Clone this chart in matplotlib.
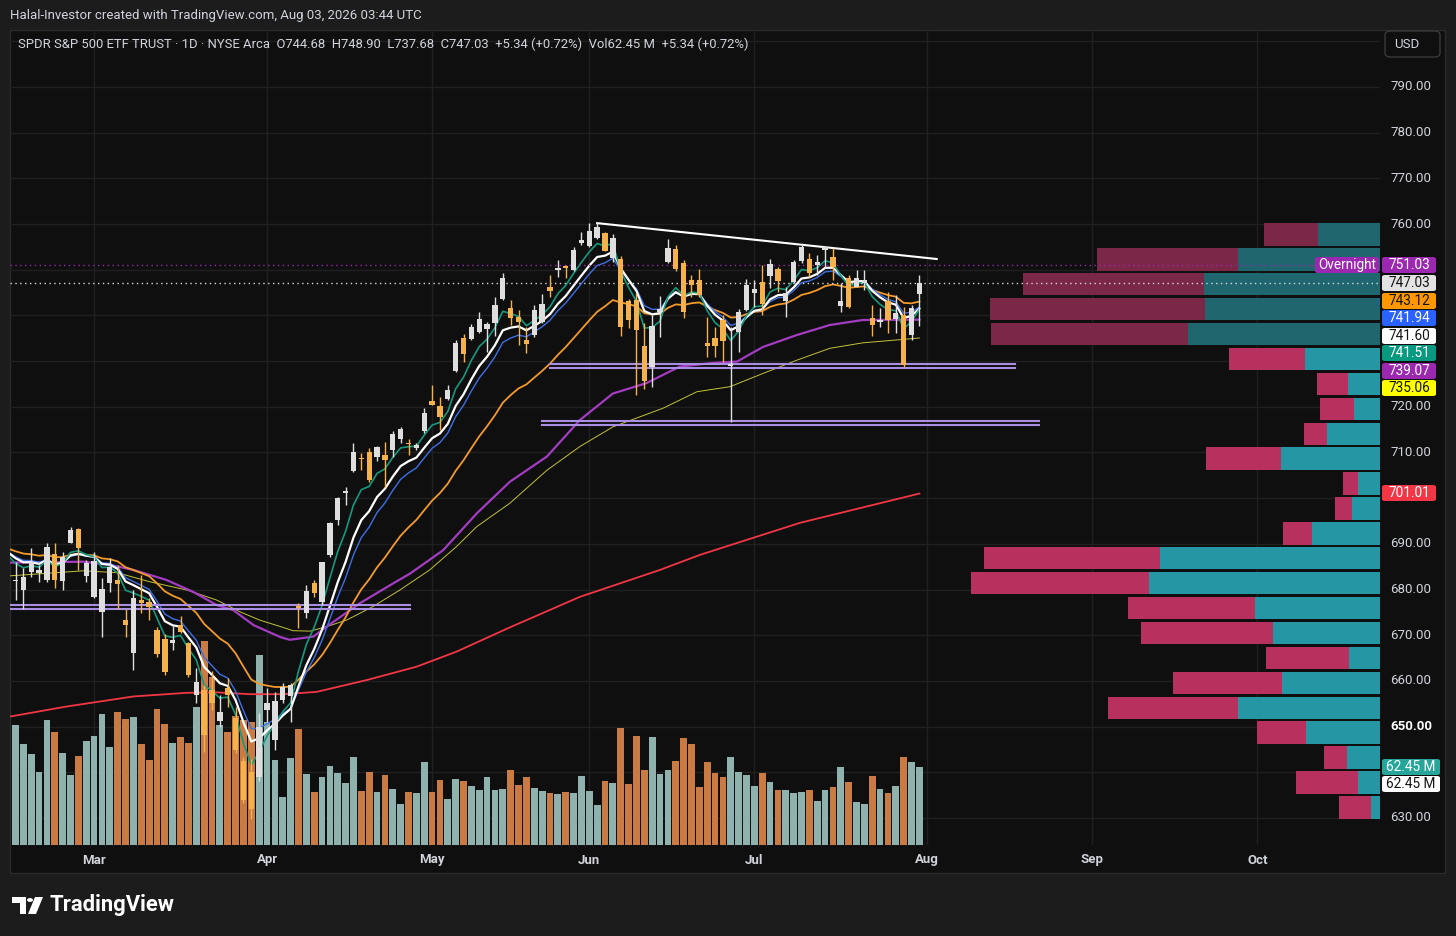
import numpy as np
import matplotlib
matplotlib.use("Agg")
import matplotlib.pyplot as plt
from matplotlib.patches import Rectangle, Polygon, Circle, FancyBboxPatch
from matplotlib.transforms import blended_transform_factory

plt.rcParams['font.family'] = ['Roboto', 'DejaVu Sans']

# === Daily candles, Feb 13 .. Jul 31 (trading-day index 0..115) ===
opens = [681.8, 680.0, 683.9, 683.7, 682.1, 687.7, 681.9, 690.1, 693.2, 682.9,
         678.4, 675.0, 681.5, 682.1, 673.3, 666.2, 677.7, 677.3, 671.1, 669.1,
         668.3, 672.2, 668.2, 656.9, 658.0, 658.0, 651.2, 658.5, 651.9, 642.5,
         640.1, 639.0, 653.6, 647.1, 655.8, 656.6, 676.3, 674.8, 681.4, 677.3,
         687.5, 695.2, 701.1, 705.9, 708.9, 710.0, 709.1, 709.5, 710.5, 712.9,
         712.0, 710.9, 714.6, 721.3, 720.1, 721.6, 727.9, 735.0, 734.8, 736.4,
         737.0, 738.4, 743.5, 741.7, 739.7, 734.6, 735.7, 738.6, 746.3, 749.9,
         750.8, 749.9, 755.8, 755.3, 756.9, 758.0, 752.6, 752.3, 743.2, 743.3,
         733.3, 728.8, 740.8, 751.8, 754.5, 751.4, 747.8, 747.8, 733.9, 735.0,
         739.0, 729.0, 736.4, 741.2, 744.9, 747.4, 748.6, 750.1, 743.1, 747.4,
         752.0, 752.3, 751.0, 754.3, 752.7, 742.0, 748.1, 746.3, 747.0, 739.4,
         738.5, 743.2, 739.2, 740.1, 735.7, 744.68]
highs = [686.0, 684.7, 689.1, 685.4, 690.1, 690.1, 688.3, 693.8, 693.4, 686.5,
         688.3, 682.5, 687.0, 685.4, 675.7, 679.9, 683.2, 678.1, 671.7, 670.3,
         672.0, 674.2, 668.6, 662.8, 659.1, 662.2, 656.9, 660.6, 654.4, 643.4,
         643.0, 653.0, 658.4, 657.6, 659.5, 659.5, 677.0, 681.0, 682.1, 686.1,
         694.8, 700.2, 702.5, 712.1, 709.8, 711.0, 711.4, 712.4, 714.6, 715.6,
         712.9, 712.1, 719.7, 724.8, 722.1, 724.8, 734.6, 735.9, 738.1, 740.8,
         738.6, 744.0, 749.3, 743.4, 741.2, 737.5, 742.3, 744.6, 748.9, 752.1,
         751.0, 755.0, 758.3, 760.2, 760.3, 758.3, 757.8, 752.9, 743.7, 745.0,
         738.3, 740.1, 744.3, 756.7, 755.4, 752.1, 748.9, 750.1, 739.6, 737.5,
         740.1, 737.5, 741.3, 747.9, 747.8, 751.0, 752.3, 750.7, 746.2, 752.1,
         755.4, 753.6, 753.2, 755.0, 754.7, 747.0, 748.9, 749.9, 749.9, 742.3,
         741.6, 745.2, 744.5, 741.9, 742.2, 748.90]
lows = [677.7, 675.7, 682.8, 681.7, 681.7, 680.3, 679.9, 690.1, 684.3, 681.7,
        678.1, 669.7, 679.5, 675.7, 669.7, 662.4, 674.8, 673.3, 665.3, 661.3,
        666.8, 670.4, 660.9, 655.1, 644.4, 653.6, 650.0, 654.4, 644.2, 633.2,
        629.7, 638.0, 651.1, 644.9, 655.1, 651.1, 671.5, 673.7, 678.4, 676.6,
        687.2, 694.1, 698.5, 705.8, 706.2, 703.6, 708.2, 702.5, 709.1, 712.1,
        709.5, 710.5, 714.2, 720.4, 714.9, 721.5, 727.7, 729.7, 734.6, 736.1,
        732.1, 735.5, 743.4, 737.9, 733.5, 731.7, 735.3, 738.3, 744.1, 748.5,
        748.1, 749.8, 755.4, 755.0, 756.7, 754.0, 751.8, 735.6, 737.2, 722.6,
        724.0, 724.4, 735.3, 751.4, 749.8, 739.4, 744.1, 744.1, 731.0, 731.0,
        729.9, 716.7, 732.1, 741.0, 741.9, 740.1, 746.0, 745.2, 739.6, 747.0,
        751.4, 748.3, 748.9, 750.3, 747.8, 740.8, 741.6, 746.2, 745.6, 735.4,
        737.5, 736.1, 736.1, 728.8, 734.6, 737.68]
closes = [682.2, 682.8, 686.1, 684.3, 689.4, 682.1, 687.2, 693.0, 689.2, 685.9,
          686.3, 680.1, 685.0, 681.2, 672.2, 678.1, 677.0, 676.1, 665.9, 662.0,
          669.0, 670.8, 661.3, 659.7, 648.2, 655.1, 653.1, 656.9, 644.9, 634.0,
          632.0, 650.0, 655.1, 655.7, 658.7, 659.1, 675.9, 679.7, 679.3, 686.1,
          694.5, 700.0, 701.6, 710.0, 708.6, 704.0, 711.1, 708.4, 714.0, 715.1,
          711.8, 711.6, 718.6, 720.4, 717.8, 723.7, 733.9, 731.6, 737.5, 739.2,
          738.1, 742.3, 748.1, 739.4, 738.5, 733.7, 741.2, 742.6, 745.4, 750.4,
          750.3, 754.4, 756.5, 758.5, 759.4, 754.1, 757.0, 737.5, 739.0, 736.9,
          725.6, 737.6, 741.5, 754.7, 750.1, 740.8, 746.7, 744.5, 733.3, 733.2,
          734.3, 729.4, 740.8, 746.6, 745.8, 742.5, 751.2, 747.6, 745.0, 751.6,
          754.9, 749.2, 751.8, 755.0, 750.6, 743.2, 741.8, 748.1, 747.7, 737.9,
          739.0, 739.0, 740.6, 729.2, 741.69, 747.03]
# volume in millions of shares
volumes = [96.4, 81.2, 73.2, 58.7, 100.2, 90.8, 73.7, 56.3, 71.8, 83.3,
           87.4, 105.0, 79.0, 106.9, 101.0, 102.6, 81.4, 68.3, 109.3, 97.3,
           82.2, 86.8, 82.2, 111.2, 163.7, 135.3, 96.4, 90.8, 103.7, 100.5,
           98.9, 152.7, 98.9, 68.3, 38.8, 70.2, 93.5, 57.1, 42.4, 54.4,
           63.5, 58.1, 50.1, 70.5, 43.4, 58.9, 42.6, 56.3, 45.0, 33.2,
           42.9, 42.0, 67.0, 42.9, 52.3, 37.0, 52.8, 51.7, 47.4, 44.0,
           54.4, 44.2, 45.3, 60.5, 48.2, 54.4, 46.1, 43.4, 41.8, 41.2,
           42.6, 41.6, 55.2, 43.7, 31.9, 51.5, 50.1, 94.3, 49.3, 87.9,
           60.5, 86.6, 57.3, 60.5, 67.5, 86.3, 81.0, 46.9, 67.0, 57.6,
           54.4, 71.0, 58.4, 56.0, 47.4, 57.6, 50.9, 44.0, 44.0, 41.6,
           42.4, 44.0, 35.4, 44.0, 46.6, 62.9, 50.7, 34.6, 33.0, 55.5,
           44.8, 41.8, 47.4, 70.8, 67.0, 62.45]

# slow averages (trading-day index, price)
purple_x = [-0.7, 4.4, 8.6, 12.0, 15.0, 19.2, 22.6, 25.6, 27.7, 30.3, 33.7, 34.9,
            37.9, 39.6, 43.8, 48.1, 50.2, 54.4, 58.7, 62.9, 67.6, 71.8, 76.0, 80.3,
            84.5, 88.7, 91.8, 95.1, 99.4, 103.6, 107.8, 115.0]
purple_y = [685.9, 686.0, 686.1, 685.4, 684.3, 682.1, 679.5, 676.6, 675.5, 672.2, 669.6, 669.0,
            669.7, 671.9, 677.0, 681.4, 683.5, 688.6, 696.7, 703.6, 709.1, 717.1, 722.9, 725.2,
            728.8, 729.6, 729.9, 733.1, 735.7, 737.9, 739.0, 739.07]
yellow_x = [-0.7, 4.4, 8.6, 12.9, 17.1, 21.8, 25.6, 28.6, 31.1, 33.7, 35.3, 37.5,
            39.6, 42.1, 45.5, 48.9, 52.7, 56.1, 58.7, 62.9, 67.6, 71.8, 76.0, 82.4,
            86.7, 90.9, 95.1, 99.4, 103.6, 107.8, 115.0]
yellow_y = [683.0, 683.6, 684.1, 683.7, 681.7, 679.9, 677.7, 675.1, 673.3, 671.9, 671.0, 670.9,
            671.9, 673.3, 676.3, 679.9, 684.3, 689.4, 693.8, 698.9, 706.1, 711.3, 715.6, 719.7,
            723.3, 724.4, 727.3, 730.2, 732.8, 734.0, 735.06]
red_x = [-0.7, 6.5, 15.0, 21.8, 25.6, 29.8, 34.1, 38.3, 44.7, 51.0, 56.1, 63.0,
         71.8, 82.0, 87.1, 99.8, 115.0]
red_y = [652.2, 654.4, 656.6, 657.4, 657.5, 657.1, 657.1, 657.6, 660.2, 663.1, 666.4, 671.8,
         678.4, 684.3, 687.6, 694.6, 701.01]

# visible-range volume profile, rows bottom -> top (relative volume)
vp_up = [9, 22, 33, 74, 142, 98, 31, 107, 125, 231, 220, 68,
         28, 22, 99, 53, 26, 32, 75, 192, 175, 176, 142, 62]
vp_down = [32, 62, 23, 49, 130, 109, 83, 132, 127, 178, 176, 29,
           17, 15, 75, 23, 34, 31, 76, 197, 215, 181, 141, 54]
vp_low, vp_high = 629.6, 760.45

# drawn levels: (start index, end index, price)
levels = [(-0.7, 50.2, 676.2), (68.0, 127.2, 728.9), (67.0, 130.2, 716.5)]
trend_x = [74.0, 117.2]
trend_y = [760.2, 752.35]

months = ["Mar", "Apr", "May", "Jun", "Jul", "Aug", "Sep", "Oct"]
month_idx = [10, 32, 53, 73, 94, 116, 137, 158]
price_ticks = [790, 780, 770, 760, 720, 710, 690, 680, 670, 660, 650, 630]

# === Layout (pixels of the 1456x936 picture) ===
W, H = 1456, 936
def fx(px):
    return px / W
def fy(py):
    return 1 - py / H

TXT = '#d1d4dc'
UP_C, DN_C = '#dedede', '#f5b14c'
VUP_C, VDN_C = '#8fb2af', '#c97b43'

fig = plt.figure(figsize=(W / 100, H / 100), dpi=100, facecolor='#1c1c1c')
fig.patches.append(Rectangle((fx(10), fy(873)), (1445 - 10) / W, (873 - 30) / H,
                             transform=fig.transFigure, facecolor='#0f0f0f',
                             edgecolor='#2a2a2a', lw=1, zorder=0))

rect = [fx(10), fy(845), (1380 - 10) / W, (845 - 30) / H]
XLIM = (-0.70, 173.6)
YLIM = (624.09, 802.47)

gax = fig.add_axes(rect, zorder=1)
vax = fig.add_axes(rect, zorder=2)
pax = fig.add_axes([fx(950), fy(845), 430 / W, (845 - 30) / H], zorder=3)
ax = fig.add_axes(rect, zorder=4)
for a in (gax, vax, pax, ax):
    a.set_facecolor('none')
    a.axis('off')
for a in (gax, vax, ax):
    a.set_xlim(*XLIM)
gax.set_ylim(*YLIM)
ax.set_ylim(*YLIM)
pax.set_ylim(*YLIM)

# grid
for p in range(630, 801, 10):
    gax.axhline(p, color='#202020', lw=1)
for m in month_idx:
    gax.axvline(m, color='#202020', lw=1)

o = np.array(opens); h = np.array(highs); l = np.array(lows); c = np.array(closes)
idx = np.arange(len(c))
up = c >= o

# volume
vax.bar(idx, volumes, width=0.86, color=np.where(up, VUP_C, VDN_C), lw=0)
vax.set_ylim(0, 655)

# volume profile
edges = np.linspace(vp_low, vp_high, len(vp_up) + 1)
centers = (edges[:-1] + edges[1:]) / 2
bh = (edges[1] - edges[0]) * 0.9
dark = np.arange(len(vp_up)) >= len(vp_up) - 5
pax.barh(centers, vp_up, height=bh, left=0, lw=0,
         color=np.where(dark, '#1f666e', '#2496a4'))
pax.barh(centers, vp_down, height=bh, left=vp_up, lw=0,
         color=np.where(dark, '#7a2748', '#b8315e'))
pax.set_xlim(430, 0)

# moving averages
def ema(vals, span, seed):
    k = 2.0 / (span + 1)
    out = [seed]
    for v in vals:
        out.append(out[-1] + k * (v - out[-1]))
    return np.array(out)

xe = np.arange(-1, len(c))
ax.plot(red_x, red_y, color='#f23645', lw=1.3, zorder=2)
ax.plot(yellow_x, yellow_y, color='#c3c23a', lw=0.7, zorder=2)
ax.plot(purple_x, purple_y, color='#a33cc2', lw=1.6, zorder=2)
ax.plot(xe, ema(c, 21, 689.0), color='#f39a2b', lw=1.3, zorder=2)
ax.plot(xe, ema(c, 10, 688.3), color='#3d6fe6', lw=1.0, zorder=2)
ax.plot(xe, ema(c, 8, 688.2), color='#ffffff', lw=1.6, zorder=2)
ax.plot(xe, ema(c, 5, 687.5), color='#14997f', lw=1.2, zorder=2)

# candles
col = np.where(up, UP_C, DN_C)
ax.vlines(idx, l, h, colors=col, lw=1, zorder=4)
ax.bar(idx, np.maximum(np.abs(c - o), 0.3), bottom=np.minimum(o, c), width=0.68,
       color=col, lw=0, zorder=5)

# levels, trendline, price lines
for x0, x1, p in levels:
    ax.plot([x0, x1], [p + 0.38, p + 0.38], color='#a98ee4', lw=1.5, zorder=3)
    ax.plot([x0, x1], [p - 0.38, p - 0.38], color='#a98ee4', lw=1.5, zorder=3)
ax.plot(trend_x, trend_y, color='#ffffff', lw=1.5, zorder=3)
ax.hlines(751.03, XLIM[0], (1315 - 15.5) / 7.86, colors='#9c27b0', lw=1,
          linestyles=(0, (1, 2.5)), zorder=3)
ax.hlines(747.03, XLIM[0], XLIM[1], colors='#d8d8d8', lw=1,
          linestyles=(0, (1, 2.5)), zorder=3)

# header texts
fig.text(fx(10), fy(16), "Halal-Investor created with TradingView.com, Aug 03, 2026 03:44 UTC",
         color=TXT, fontsize=9.5, va='center')
fig.text(fx(18), fy(44),
         "SPDR S&P 500 ETF TRUST · 1D · NYSE Arca  O744.68  H748.90  L737.68  C747.03  "
         "+5.34 (+0.72%)  Vol62.45 M  +5.34 (+0.72%)",
         color=TXT, fontsize=9.4, va='center')

# USD box
fig.patches.append(FancyBboxPatch((fx(1385), fy(57)), 55 / W, 26 / H,
                                  boxstyle='round,pad=0,rounding_size=0.004',
                                  transform=fig.transFigure, facecolor='#0f0f0f',
                                  edgecolor='#3a3a3a', lw=1, zorder=5))
fig.text(fx(1407), fy(44.5), "USD", color=TXT, fontsize=9.5, ha='center', va='center', zorder=6)

# price axis
ytr = blended_transform_factory(fig.transFigure, ax.transData)
for p in price_ticks:
    fig.text(fx(1411), p, f"{p:.2f}", transform=ytr, color='#ffffff' if p == 650 else TXT,
             fontsize=9.5, ha='center', va='center',
             fontweight='bold' if p == 650 else 'normal')

# date axis
xtr = blended_transform_factory(ax.transData, fig.transFigure)
for m, name in zip(month_idx, months):
    fig.text(m, fy(860), name, transform=xtr, color=TXT, fontsize=9.5,
             ha='center', va='center', fontweight='bold')

# value labels on the price scale
def tag(ypx, text, bg, fg, x0=1382, w=54):
    fig.patches.append(FancyBboxPatch((fx(x0), fy(ypx + 8)), w / W, 16 / H,
                                      boxstyle='round,pad=0,rounding_size=0.002',
                                      transform=fig.transFigure, facecolor=bg,
                                      lw=0, zorder=5))
    fig.text(fx(x0 + w / 2), fy(ypx), text, color=fg, fontsize=9.8,
             ha='center', va='center', zorder=6)

tag(265, "Overnight", '#9c27b0', '#ffffff', x0=1315, w=64)
tag(265, "751.03", '#9c27b0', '#ffffff')
tag(283, "747.03", '#e3e3e3', '#131313')
tag(301, "743.12", '#ff9800', '#131313')
tag(318, "741.94", '#2962ff', '#ffffff')
tag(336, "741.60", '#ffffff', '#131313')
tag(353, "741.51", '#089981', '#ffffff')
tag(371, "739.07", '#9c27b0', '#ffffff')
tag(388, "735.06", '#ffff00', '#131313')
tag(493, "701.01", '#f23645', '#ffffff')
tag(767, "62.45 M", '#26a69a', '#ffffff', w=58)
tag(784, "62.45 M", '#ffffff', '#131313', w=58)

# TradingView logo
def pts(seq):
    return [(fx(x), fy(y)) for x, y in seq]
fig.patches.append(Polygon(pts([(12, 897), (26, 897), (26, 914), (19.5, 914), (19.5, 903), (12, 903)]),
                           closed=True, transform=fig.transFigure, facecolor='white', lw=0))
fig.patches.append(Circle((fx(30), fy(900)), 3 / W, transform=fig.transFigure,
                          facecolor='white', lw=0))
fig.patches.append(Polygon(pts([(35, 897), (43, 897), (36, 914), (28, 914)]),
                           closed=True, transform=fig.transFigure, facecolor='white', lw=0))
fig.text(fx(49), fy(905), "TradingView", color='white', fontsize=15.8, fontweight='bold',
         va='center')

fig.savefig("out.png", dpi=100, facecolor=fig.get_facecolor())
